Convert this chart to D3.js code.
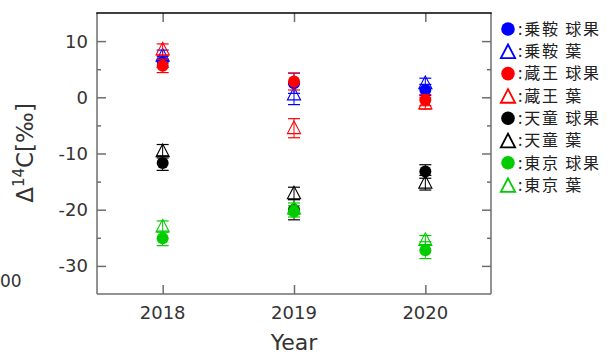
<!DOCTYPE html>
<html><head><meta charset="utf-8">
<script src="https://cdn.jsdelivr.net/npm/d3@7"></script>
<style>body{margin:0;background:#fff;}svg{display:block;}</style>
</head><body>
<svg id="c" width="610" height="355"></svg>
<script>
const years = [2018, 2019, 2020];
const seriesNames = ["乗鞍 球果","乗鞍 葉","蔵王 球果","蔵王 葉","天童 球果","天童 葉","東京 球果","東京 葉"];
const seriesColors = ["#0000ff","#0000ff","#ff0000","#ff0000","#000000","#000000","#00cc00","#00cc00"];
const seriesShapes = ["circle","triangle","circle","triangle","circle","triangle","circle","triangle"];
const seriesValues = [
  [6.3, 2.5, 1.3],
  [7.4, 0.5, 2.5],
  [5.6, 2.8, -0.5],
  [8.5, -5.5, -1.1],
  [-11.7, -20.0, -13.2],
  [-9.6, -17.1, -15.2],
  [-25.1, -20.3, -27.2],
  [-23.0, -19.8, -25.4]
];
const seriesErrors = [
  [1.0, 1.8, 1.0],
  [1.0, 1.8, 0.9],
  [1.2, 1.5, 1.0],
  [1.0, 1.7, 1.0],
  [1.3, 1.8, 1.2],
  [1.2, 1.1, 1.3],
  [1.3, 1.0, 1.5],
  [1.0, 1.0, 0.8]
];
const yTicks = [-30, -20, -10, 0, 10];
const yMinor = [-25, -15, -5, 5];

const svg = d3.select("#c");
const L = 97, R = 491, T = 13, B = 294;
const x = d3.scaleLinear().domain([2017.5, 2020.5]).range([L, R]);
const y = d3.scaleLinear().domain([-35, 15]).range([B, T]);
const frameCol = "#6e6e6e";
const textCol = "#333";
const font = "DejaVu Sans, Verdana, sans-serif";

// axes with inward ticks
const gL = svg.append("g").attr("transform", `translate(${L},0)`)
  .call(d3.axisRight(y).tickValues(yTicks).tickSize(9).tickFormat(""));
const gLm = svg.append("g").attr("transform", `translate(${L},0)`)
  .call(d3.axisRight(y).tickValues(yMinor).tickSize(4).tickFormat(""));
const gR = svg.append("g").attr("transform", `translate(${R},0)`)
  .call(d3.axisLeft(y).tickValues(yTicks).tickSize(9).tickFormat(""));
const gRm = svg.append("g").attr("transform", `translate(${R},0)`)
  .call(d3.axisLeft(y).tickValues(yMinor).tickSize(4).tickFormat(""));
const gB = svg.append("g").attr("transform", `translate(0,${B})`)
  .call(d3.axisTop(x).tickValues(years).tickSize(9).tickFormat(""));
const gT = svg.append("g").attr("transform", `translate(0,${T})`)
  .call(d3.axisBottom(x).tickValues(years).tickSize(9).tickFormat(""));
[gL,gLm,gR,gRm,gB,gT].forEach(g=>{
  g.select(".domain").remove();
  g.selectAll("line").attr("stroke", frameCol).attr("stroke-width", 1.5);
});
// frame
svg.append("line").attr("x1",L).attr("x2",L).attr("y1",T).attr("y2",B).attr("stroke",frameCol).attr("stroke-width",1.5);
svg.append("line").attr("x1",R).attr("x2",R).attr("y1",T).attr("y2",B).attr("stroke",frameCol).attr("stroke-width",1.5);
svg.append("line").attr("x1",L).attr("x2",R).attr("y1",B).attr("y2",B).attr("stroke",frameCol).attr("stroke-width",1.5);
svg.append("line").attr("x1",L-0.75).attr("x2",R+0.75).attr("y1",T).attr("y2",T).attr("stroke","#000").attr("stroke-width",1.5);

// tick labels
svg.append("g").selectAll("text").data(yTicks).join("text")
  .attr("x", L-9).attr("y", d=>y(d)).attr("dy","0.36em")
  .attr("text-anchor","end").attr("font-family",font).attr("font-size",18).attr("fill",textCol)
  .text(d=>d);
svg.append("g").selectAll("text").data(years).join("text")
  .attr("x", d=>x(d)).attr("y", B+25)
  .attr("text-anchor","middle").attr("font-family",font).attr("font-size",18).attr("fill",textCol)
  .text(d=>d);
svg.append("text").attr("x",(L+R)/2).attr("y",350).attr("text-anchor","middle")
  .attr("font-family",font).attr("font-size",22).attr("fill",textCol).text("Year");
const yl = svg.append("text").attr("transform",`translate(33,153) rotate(-90)`).attr("text-anchor","middle")
  .attr("font-family",font).attr("font-size",23).attr("fill",textCol);
yl.append("tspan").text("Δ");
yl.append("tspan").attr("font-size",15).attr("dy",-9).text("14");
yl.append("tspan").attr("dy",9).text("C[‰]");
svg.append("text").attr("x",0).attr("y",287).attr("text-anchor","start")
  .attr("font-family",font).attr("font-size",17).attr("fill",textCol).text("00");

// data
const triPath = (cx, cy, s) => `M${cx},${cy-s*0.6}L${cx+s*0.55},${cy+s*0.45}L${cx-s*0.55},${cy+s*0.45}Z`;
const plot = svg.append("g");
seriesNames.forEach((name, i) => {
  const g = plot.append("g");
  const col = seriesColors[i];
  const pts = years.map((yr, j) => ({yr, v: seriesValues[i][j], e: seriesErrors[i][j]}));
  pts.forEach(p => {
    const cx = x(p.yr), y1 = y(p.v + p.e), y2 = y(p.v - p.e);
    g.append("line").attr("x1",cx).attr("x2",cx).attr("y1",y1).attr("y2",y2).attr("stroke",col).attr("stroke-width",1);
    g.append("line").attr("x1",cx-6).attr("x2",cx+6).attr("y1",y1).attr("y2",y1).attr("stroke",col).attr("stroke-width",1.2);
    g.append("line").attr("x1",cx-6).attr("x2",cx+6).attr("y1",y2).attr("y2",y2).attr("stroke",col).attr("stroke-width",1.2);
    if (seriesShapes[i] === "circle") {
      g.append("circle").attr("cx",cx).attr("cy",y(p.v)).attr("r",6).attr("fill",col);
    } else {
      g.append("path").attr("d",triPath(cx,y(p.v),12)).attr("fill","none").attr("stroke",col).attr("stroke-width",1.1);
    }
  });
});

// legend
const lg = svg.append("g");
seriesNames.forEach((name, i) => {
  const ly = 29 + i*22.3, lx = 508;
  const col = seriesColors[i];
  if (seriesShapes[i] === "circle") {
    lg.append("circle").attr("cx",lx).attr("cy",ly).attr("r",6.8).attr("fill",col);
  } else {
    lg.append("path").attr("d",triPath(lx,ly+1,13)).attr("fill","none").attr("stroke",col).attr("stroke-width",1.8);
  }
  lg.append("text").attr("x",518).attr("y",ly).attr("dy","0.36em")
    .attr("font-family","Noto Sans CJK JP, sans-serif").attr("font-size",16).attr("letter-spacing",1.8).attr("fill","#222")
    .text(":" + name);
});
</script>
</body></html>
